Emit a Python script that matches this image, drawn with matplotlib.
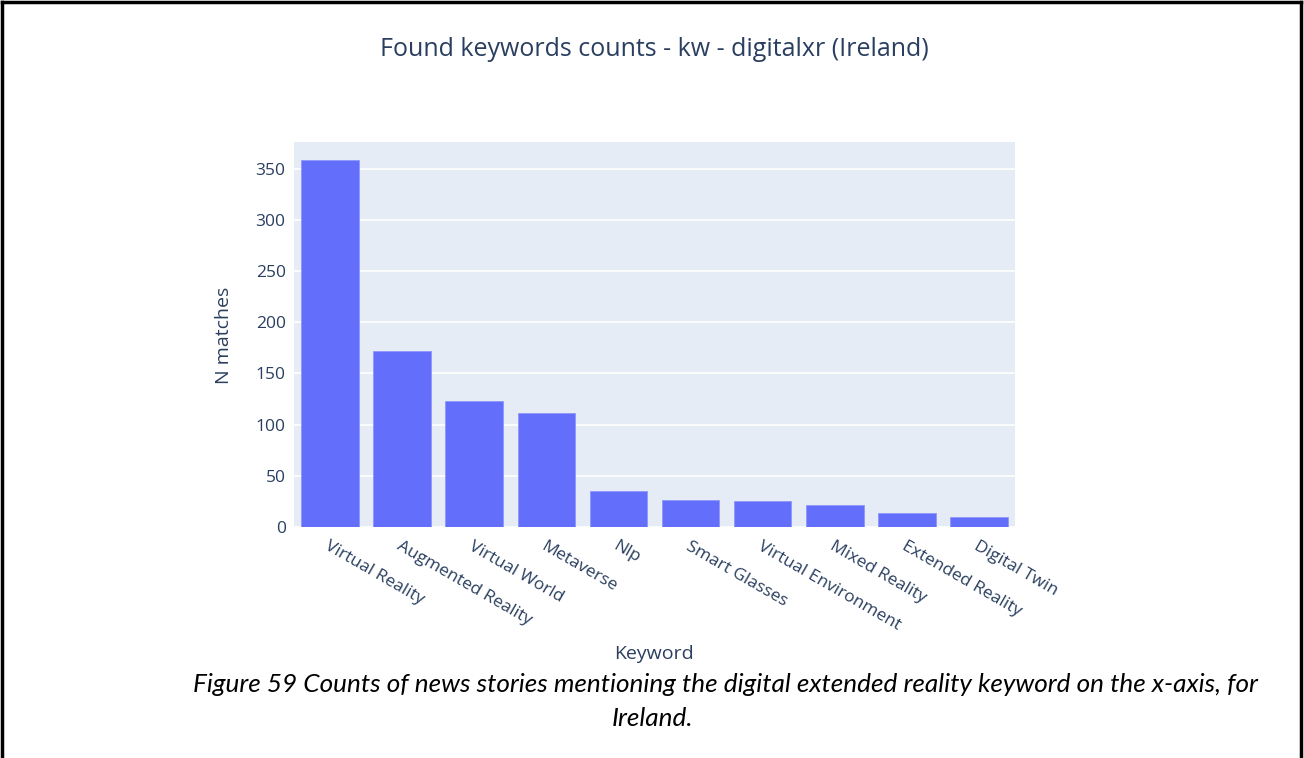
import matplotlib
matplotlib.use("Agg")
import matplotlib.pyplot as plt

# Keyword counts for Ireland
keywords = ["Virtual Reality", "Augmented Reality", "Virtual World", "Metaverse", "Nlp",
            "Smart Glasses", "Virtual Environment", "Mixed Reality", "Extended Reality", "Digital Twin"]
counts = [358, 172, 123, 111, 35, 26, 25, 21, 14, 10]
yticks = [0, 50, 100, 150, 200, 250, 300, 350]

W, H = 1304, 758
text_col = "#2a3f5f"
plt.rcParams['font.family'] = ['Open Sans', 'DejaVu Sans']

fig = plt.figure(figsize=(W / 100, H / 100), dpi=100)

# plot area placed in pixel coordinates
left, right, top, bottom = 294, 1015, 142, 527
ax = fig.add_axes([left / W, 1 - bottom / H, (right - left) / W, (bottom - top) / H])
ax.set_facecolor("#E5ECF6")
ax.bar(range(len(keywords)), counts, width=0.8, color="#636EFA",
       edgecolor="#8e96fb", linewidth=0.6, zorder=3)
ax.set_xlim(-0.5, len(keywords) - 0.5)
ax.set_ylim(0, max(counts) * 1.05)
ax.set_yticks(yticks)
ax.yaxis.grid(True, color="white", linewidth=1.2, zorder=0)
ax.set_axisbelow(True)
for s in ax.spines.values():
    s.set_visible(False)
ax.tick_params(axis="both", length=0, labelsize=12.5, colors=text_col, pad=6)
ax.set_xticks(range(len(keywords)))
ax.set_xticklabels(keywords, rotation=-30, ha="left", va="top", rotation_mode="anchor")
ax.tick_params(axis="x", pad=8)

# titles and axis labels
fig.text(654 / W, 1 - 50 / H, "Found keywords counts - kw - digitalxr (Ireland)",
         ha="center", va="center", fontsize=18, color=text_col)
fig.text(224 / W, 1 - 335 / H, "N matches", rotation=90, ha="center", va="center",
         fontsize=14, color=text_col)
fig.text(654 / W, 1 - 654 / H, "Keyword", ha="center", va="center",
         fontsize=14, color=text_col)

# caption
cap_font = dict(fontsize=18.8, style="italic", family=["Lato", "DejaVu Sans"], color="black")
fig.text(725 / W, 1 - 685 / H,
         "Figure 59 Counts of news stories mentioning the digital extended reality keyword on the x-axis, for",
         ha="center", va="center", **cap_font)
fig.text(652 / W, 1 - 718 / H, "Ireland.", ha="center", va="center", **cap_font)

# page frame
frame = dict(color="black", linewidth=2.5, transform=fig.transFigure, clip_on=False)
fig.add_artist(plt.Line2D([2 / W, 1 - 3 / W], [1 - 2 / H, 1 - 2 / H], **frame))
fig.add_artist(plt.Line2D([2 / W, 2 / W], [0, 1 - 2 / H], **frame))
fig.add_artist(plt.Line2D([1 - 3 / W, 1 - 3 / W], [0, 1 - 2 / H], **frame))

fig.savefig("out.png", dpi=100, facecolor="white")
